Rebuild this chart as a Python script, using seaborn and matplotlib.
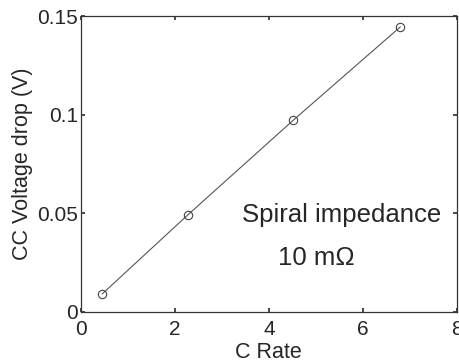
import matplotlib
matplotlib.use("Agg")
import matplotlib.pyplot as plt
import seaborn as sns
import pandas as pd

# Constant-current voltage drop versus charge rate
c_rate = [0.45, 2.27, 4.52, 6.80]
voltage_drop = [0.0091, 0.0491, 0.0972, 0.1445]
x_ticks = [0, 2, 4, 6, 8]
y_ticks = [0, 0.05, 0.1, 0.15]
y_tick_labels = ["0", "0.05", "0.1", "0.15"]

sns.set_theme(style="ticks")
plt.rcParams["font.family"] = ["Liberation Sans", "DejaVu Sans"]

df = pd.DataFrame({"C Rate": c_rate, "drop": voltage_drop})

fig = plt.figure(figsize=(4.59, 3.64), dpi=100)
ax = fig.add_axes([0.1765, 0.143, 0.8185, 0.813])

sns.lineplot(data=df, x="C Rate", y="drop", ax=ax, color="#555555",
             linewidth=0.8, marker="o", markersize=6,
             markerfacecolor="none", markeredgecolor="#444444",
             markeredgewidth=0.8)

ax.set_xlim(0, 8)
ax.set_ylim(0, 0.15)
ax.set_xticks(x_ticks)
ax.set_yticks(y_ticks)
ax.set_yticklabels(y_tick_labels)
ax.tick_params(direction="in", top=True, right=True, length=3,
               labelsize=15, color="#333333")
ax.tick_params(axis="x", pad=6)
ax.tick_params(axis="y", pad=2)
for s in ax.spines.values():
    s.set_linewidth(0.9)
    s.set_color("#333333")

ax.set_xlabel("C Rate", fontsize=15.5, labelpad=2)
ax.set_ylabel("CC Voltage drop (V)", fontsize=15.5, labelpad=3)

ax.text(5.55, 0.049, "Spiral impedance", fontsize=18.5, ha="center", va="center")
ax.text(5.02, 0.0273, "10 m\u03a9", fontsize=18.5, ha="center", va="center")

fig.savefig("out.png", dpi=100)
